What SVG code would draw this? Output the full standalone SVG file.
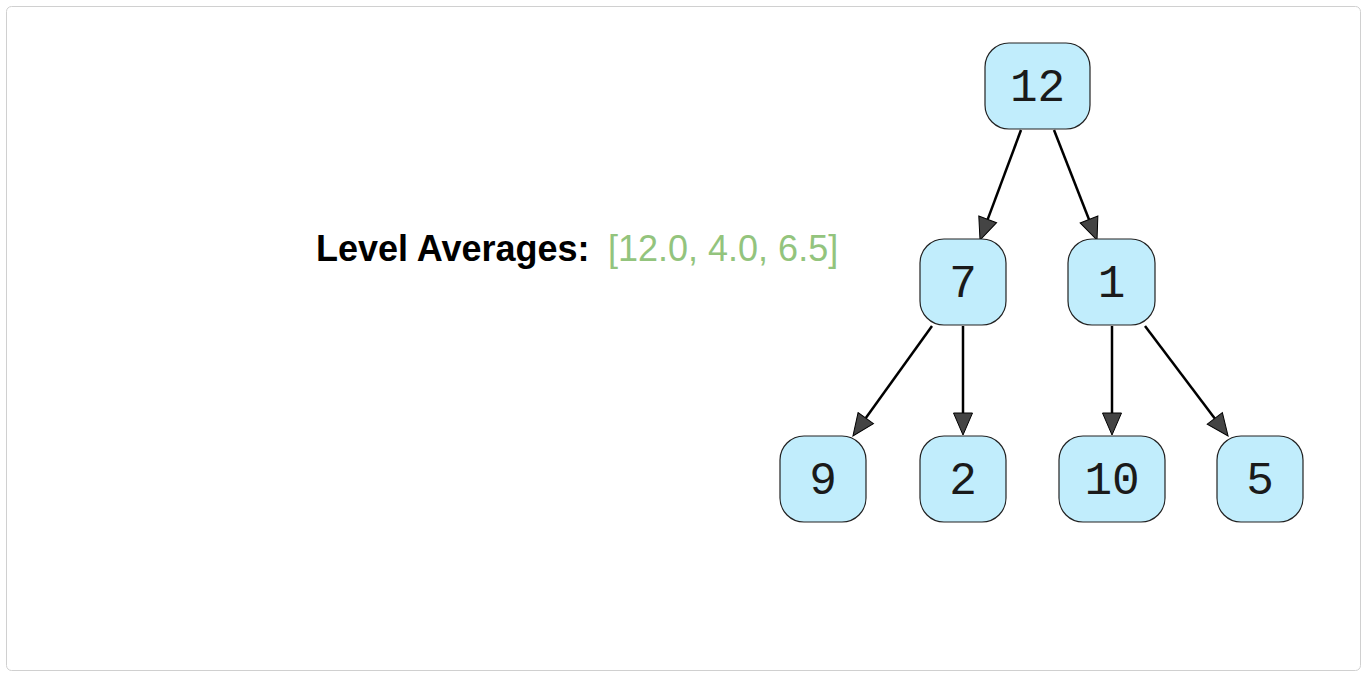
<svg xmlns="http://www.w3.org/2000/svg" width="1366" height="677" viewBox="0 0 1366 677">
<style>
.node rect{fill:#c1edfc;stroke:#222;stroke-width:1.2}
.node text{font-family:"Liberation Mono","Courier New",monospace;font-size:46px;fill:#1a1a1a;text-anchor:middle}
.edge{stroke:#000;stroke-width:2.5;fill:none}
.title{font-family:"Liberation Sans",Arial,sans-serif;font-size:36px;font-weight:bold;fill:#000}
.vals{font-family:"Liberation Sans",Arial,sans-serif;font-size:36px;fill:#93c47d}
</style>
<defs>
<marker id="arr" markerUnits="userSpaceOnUse" markerWidth="24" markerHeight="21" refX="0" refY="9.5" orient="auto" viewBox="-1 -1 24 21">
<path d="M0,0 L22,9.5 L0,19 Z" fill="#444" stroke="#000" stroke-width="1"/>
</marker>
</defs>
<rect x="6.5" y="6.5" width="1354" height="664" rx="5" fill="#fff" stroke="#d0d0d0" stroke-width="1"/>
<text class="title" x="316" y="261">Level Averages:</text>
<text class="vals" x="608" y="261">[12.0, 4.0, 6.5]</text>
<g id="connectors">
<path class="edge" d="M1021,130 L987.7,219.4" marker-end="url(#arr)"/>
<path class="edge" d="M1054,130 L1089,219.5" marker-end="url(#arr)"/>
<path class="edge" d="M932,326 L865.8,418.1" marker-end="url(#arr)"/>
<path class="edge" d="M963,326 L963,413" marker-end="url(#arr)"/>
<path class="edge" d="M1112,326 L1112,413" marker-end="url(#arr)"/>
<path class="edge" d="M1145,326 L1214.8,418.4" marker-end="url(#arr)"/>
</g>
<g id="n12" class="node"><rect x="985" y="43" width="105" height="86" rx="24"/><text x="1037.5" y="101">12</text></g>
<g id="n7" class="node"><rect x="920" y="239" width="86" height="86" rx="24"/><text x="963" y="297">7</text></g>
<g id="n1" class="node"><rect x="1068" y="239" width="87" height="86" rx="24"/><text x="1111.5" y="297">1</text></g>
<g id="n9" class="node"><rect x="780" y="436" width="86" height="86" rx="24"/><text x="823" y="494">9</text></g>
<g id="n2" class="node"><rect x="920" y="436" width="86" height="86" rx="24"/><text x="963" y="494">2</text></g>
<g id="n10" class="node"><rect x="1059" y="436" width="106" height="86" rx="24"/><text x="1112" y="494">10</text></g>
<g id="n5" class="node"><rect x="1217" y="436" width="86" height="86" rx="24"/><text x="1260" y="494">5</text></g>
</svg>
